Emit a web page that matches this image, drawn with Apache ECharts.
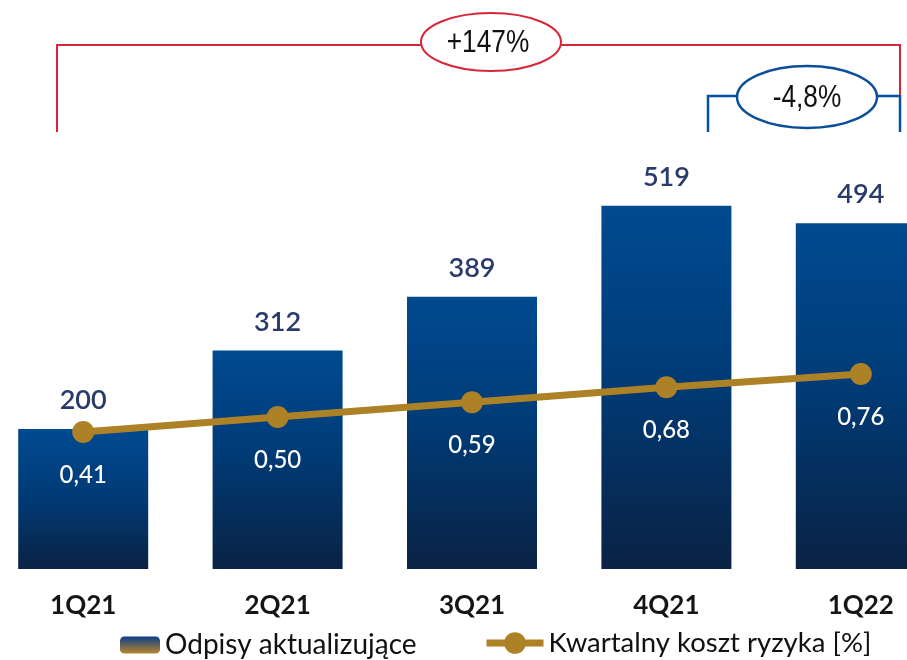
<!DOCTYPE html>
<html>
<head>
<meta charset="utf-8">
<script src="https://cdn.jsdelivr.net/npm/echarts@6/dist/echarts.min.js"></script>
<style>
  html, body { margin: 0; padding: 0; background: #fff; }
  #chart { width: 907px; height: 660px; }
</style>
</head>
<body>
<div id="chart"></div>
<script>
const categories = ["1Q21", "2Q21", "3Q21", "4Q21", "1Q22"];
const odpisy = [200, 312, 389, 519, 494];
const kosztRyzyka = [0.41, 0.50, 0.59, 0.68, 0.76];

const BAR_NAME = "Odpisy aktualizujące";
const LINE_NAME = "Kwartalny koszt ryzyka [%]";
const FONT = "Lato, 'Open Sans', sans-serif";
const NARROW = "'Liberation Sans', Arial, sans-serif";

const fmtPct = (v, digits) => (v > 0 ? "+" : "") + v.toFixed(digits).replace(".", ",") + "%";
const yoy = (odpisy[4] / odpisy[0] - 1) * 100;
const qoq = (odpisy[4] / odpisy[3] - 1) * 100;

const barGradient = new echarts.graphic.LinearGradient(0, 0, 0, 1, [
  { offset: 0, color: "#004a90" },
  { offset: 0.45, color: "#003c78" },
  { offset: 1, color: "#0a2244" }
]);
const legendGradient = new echarts.graphic.LinearGradient(0, 0, 0, 1, [
  { offset: 0, color: "#0a3d8a" },
  { offset: 1, color: "#b8862a" }
]);

const chart = echarts.init(document.getElementById("chart"));
chart.setOption({
  animation: false,
  backgroundColor: "#fff",
  grid: { left: -14, width: 972, top: 149, bottom: 91, outerBoundsMode: "none", containLabel: false },
  xAxis: {
    type: "category",
    data: categories,
    axisLine: { show: false },
    axisTick: { show: false },
    axisLabel: {
      margin: 24,
      fontFamily: FONT,
      fontSize: 26,
      fontWeight: "bold",
      color: "#151515"
    }
  },
  yAxis: [
    { type: "value", min: 0, max: 600, show: false },
    { type: "value", min: -0.417, max: 2.118, show: false }
  ],
  legend: [
    {
      left: 120,
      top: 631,
      padding: 0,
      itemWidth: 40,
      itemHeight: 17,
      itemGap: 8,
      textStyle: { fontFamily: FONT, fontSize: 28, color: "#111" },
      data: [{ name: BAR_NAME, itemStyle: { color: legendGradient } }]
    },
    {
      left: 483,
      top: 629,
      padding: 0,
      itemWidth: 57,
      itemHeight: 27,
      lineStyle: { width: 7 },
      textStyle: { fontFamily: FONT, fontSize: 27.5, color: "#111" },
      data: [LINE_NAME]
    }
  ],
  series: [
    {
      name: BAR_NAME,
      type: "bar",
      data: odpisy,
      barWidth: 130,
      itemStyle: { color: barGradient },
      label: {
        show: true,
        position: "top",
        distance: 15,
        fontFamily: FONT,
        fontSize: 27,
        fontWeight: 600,
        color: "#283b6a"
      }
    },
    {
      name: LINE_NAME,
      type: "line",
      yAxisIndex: 1,
      data: kosztRyzyka,
      symbol: "circle",
      symbolSize: 22,
      lineStyle: { color: "#ad8227", width: 7 },
      itemStyle: { color: "#ad8227" },
      label: {
        show: true,
        position: "bottom",
        distance: 20,
        fontFamily: FONT,
        fontSize: 24,
        fontWeight: 500,
        color: "#fff",
        formatter: p => p.value.toFixed(2).replace(".", ",")
      }
    }
  ],
  graphic: [
    {
      type: "polyline",
      shape: { points: [[57, 132], [57, 45], [900, 45], [900, 95]] },
      style: { stroke: "#d7283b", lineWidth: 2, fill: null }
    },
    {
      type: "ellipse",
      shape: { cx: 491, cy: 42, rx: 70, ry: 29 },
      style: { stroke: "#d7283b", lineWidth: 2, fill: "#fff" }
    },
    {
      type: "text",
      x: 488, y: 43,
      scaleX: 0.82,
      style: {
        text: fmtPct(yoy, 0),
        fontFamily: NARROW, fontSize: 32, fill: "#111",
        align: "center", verticalAlign: "middle"
      }
    },
    {
      type: "polyline",
      shape: { points: [[708, 132], [708, 96], [900, 96], [900, 132]] },
      style: { stroke: "#0b4f9c", lineWidth: 2.5, fill: null }
    },
    {
      type: "ellipse",
      shape: { cx: 807, cy: 97, rx: 70, ry: 31 },
      style: { stroke: "#0b4f9c", lineWidth: 2.5, fill: "#fff" }
    },
    {
      type: "text",
      x: 807, y: 98,
      scaleX: 0.82,
      style: {
        text: fmtPct(qoq, 1),
        fontFamily: NARROW, fontSize: 32, fill: "#111",
        align: "center", verticalAlign: "middle"
      }
    }
  ]
});
</script>
</body>
</html>
